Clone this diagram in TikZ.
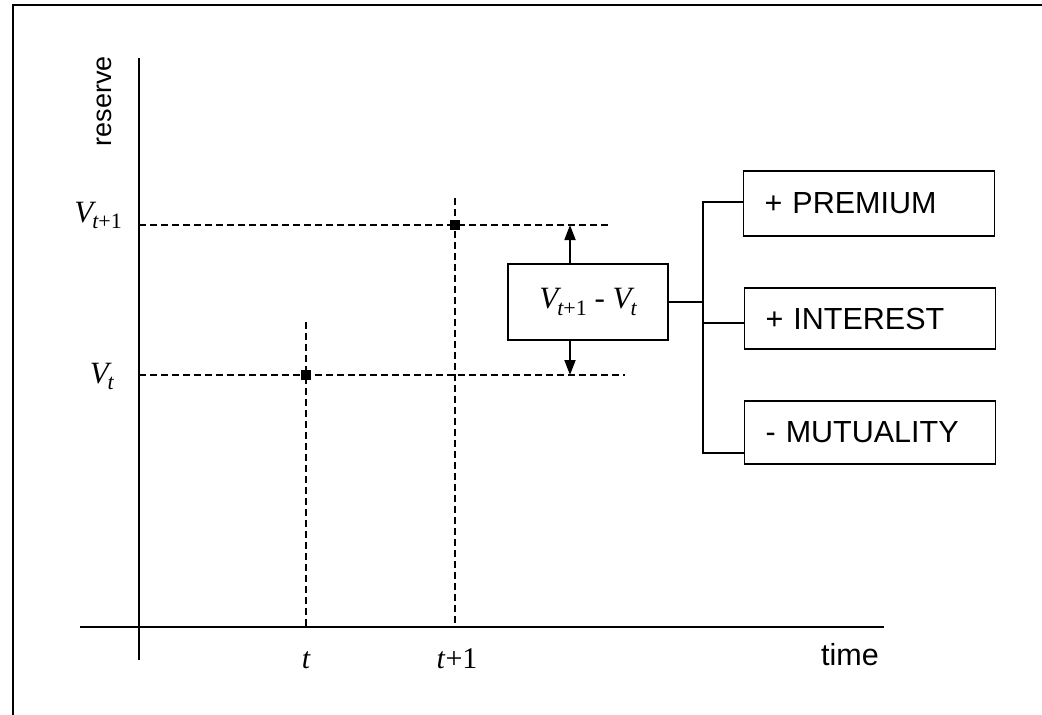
\documentclass[tikz,border=0pt]{standalone}
\usepackage{fontspec}
\setmainfont{Liberation Sans}
\newfontfamily\tnr{Liberation Serif}
\usetikzlibrary{arrows.meta}
\newcommand\myV[2]{{\tnr\fontsize{31}{31}\selectfont\itshape V\kern-1pt\raisebox{-0.22em}{\fontsize{22}{22}\selectfont #1\upshape #2}}}
\begin{document}
\begin{tikzpicture}[x=1pt,y=-1pt,
  ax/.style={line width=2pt},
  dsh/.style={line width=1.6pt, dash pattern=on 6.5pt off 4.5pt},
  con/.style={line width=1.7pt},
  bx/.style={draw, line width=1.8pt, inner sep=0pt},
  rbx/.style={bx, minimum width=251pt, text width=209pt, align=left},
  lbl/.style={font=\fontsize{30.5}{30.5}\selectfont},
  mlbl/.style={font=\tnr\fontsize{30}{30}\selectfont},
  dot/.style={fill, inner sep=0pt, minimum size=10pt},
  arr/.style={line width=1.8pt, -{Triangle[length=15pt,width=11pt]}}
]
\useasboundingbox (0,0) rectangle (1042,715);
\draw[line width=2.6pt] (13,715) -- (13,5) -- (1042,5);

% axes
\coordinate (yt) at (139,58);
\coordinate (yb) at (139,660);
\coordinate (xl) at (80,627);
\coordinate (xr) at (884,627);
\draw[ax] (yt) -- (yb);
\draw[ax] (xl) -- (xr);

% axis labels
\node[font=\fontsize{27}{27}\selectfont, rotate=90] (res) at (104,101) {reserve};
\node[lbl, anchor=base] (tim) at (850,665) {time};

% points
\node[dot] (p1) at (306,375) {};
\node[dot] (p2) at (455,225) {};

% dashed guides
\coordinate (h1s) at (139,375); \coordinate (h1e) at (625,375);
\coordinate (h2s) at (139,225); \coordinate (h2e) at (612,225);
\coordinate (v1t) at (306,322); \coordinate (v1b) at (306,627);
\coordinate (v2t) at (455,198); \coordinate (v2b) at (455,627);
\draw[dsh] (h1s) -- (h1e);
\draw[dsh] (h2s) -- (h2e);
\draw[dsh] (v1t) -- (v1b);
\draw[dsh] (v2t) -- (v2b);

% tick labels
\node[anchor=base, font=\tnr\fontsize{30}{30}\selectfont\itshape] (tl) at (306,668) {t};
\node[mlbl, anchor=base] (tl2) at (457,668) {\textit{t}+1};
\node[anchor=base east, inner sep=0pt] (vl2) at (122,222) {\myV{t}{+1}};
\node[anchor=base east, inner sep=0pt] (vl1) at (114,383) {\myV{t}{}};

% difference box
\node[bx, minimum width=160pt, minimum height=76pt] (d) at (588,302) {\myV{t}{+1}{\tnr\fontsize{31}{31}\selectfont\ -\ }\myV{t}{}};
\coordinate (au) at (570,225);
\coordinate (ad) at (570,375);
\draw[arr] (d.north -| au) -- (au);
\draw[arr] (d.south -| ad) -- (ad);

% component boxes
\node[rbx, minimum height=65pt, lbl] (b1) at (869,203.5) {+ PREMIUM};
\node[rbx, minimum height=61pt, lbl] (b2) at (870,318.5) {+ INTEREST};
\node[rbx, minimum height=63pt, lbl] (b3) at (870,432.5) {- MUTUALITY};

% bracket
\coordinate (j) at (703,302);
\coordinate (k1) at (703,202);
\coordinate (k2) at (703,323);
\coordinate (k3) at (703,453);
\draw[con] (d.east) -- (j);
\draw[con] (b1.west |- k1) -- (k1) -- (k3) -- ([xshift=1pt]b3.west |- k3);
\draw[con] (k2) -- (b2.west |- k2);
\end{tikzpicture}
\end{document}
